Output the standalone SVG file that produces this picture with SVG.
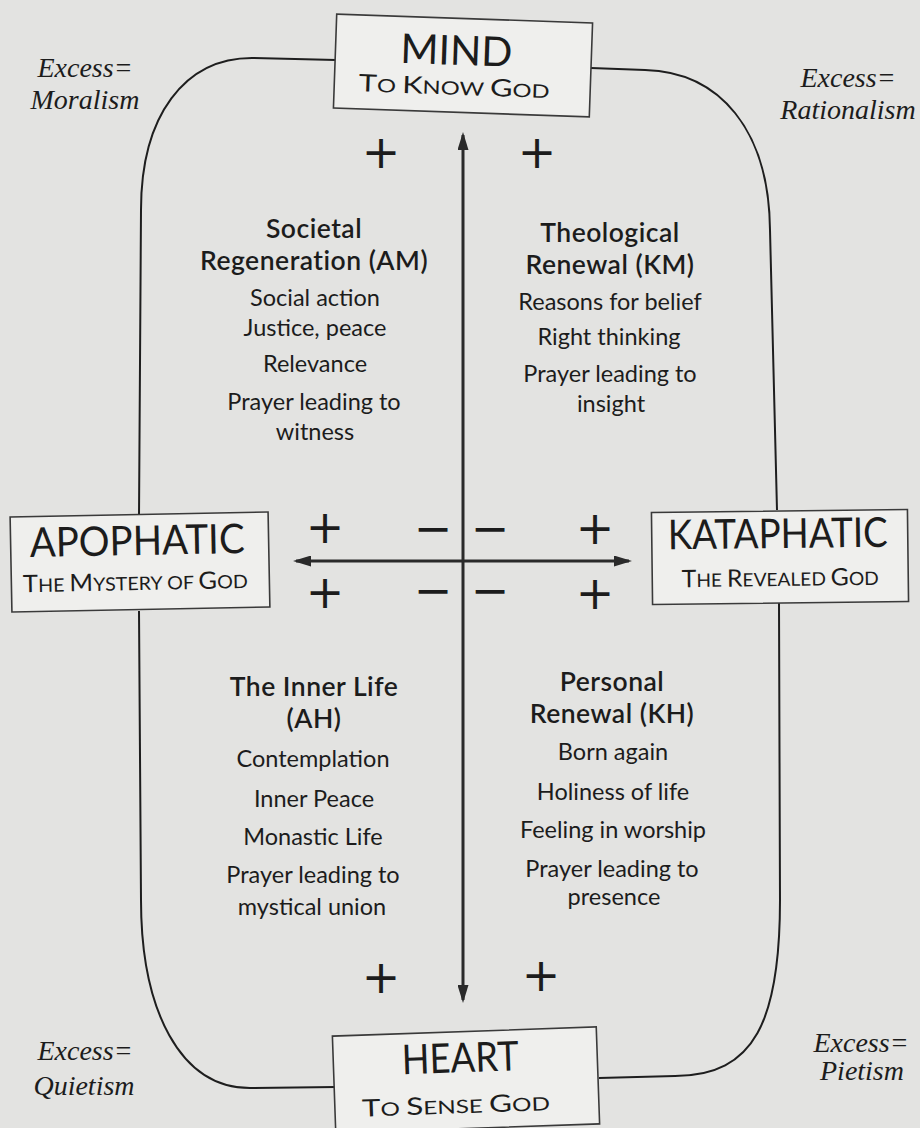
<svg xmlns="http://www.w3.org/2000/svg" width="920" height="1128" viewBox="0 0 920 1128">
<defs>
<style>
.bg{fill:#e3e3e1}
.box rect{fill:#efefed;stroke:#3a3a3a;stroke-width:1.6}
.t{font-family:Lato,"Open Sans","DejaVu Sans",sans-serif;fill:#1c1c1c;text-anchor:middle}
.big{font-size:41px;font-weight:400}
.scL{font-size:24px;font-weight:400}
.scS{font-size:18.5px;font-weight:400}
.hd{font-size:26.5px;font-weight:600;letter-spacing:0.5px}
.bd{font-size:23.5px}
.pm{font-family:"DejaVu Sans","Liberation Sans",sans-serif;font-size:46px;font-weight:400;fill:#1c1c1c;text-anchor:middle}
.ex{font-family:"Liberation Serif","Times New Roman",serif;font-style:italic;font-size:28px;fill:#1c1c1c;text-anchor:middle}
.frame{fill:none;stroke:#1e1e1e;stroke-width:2}
.axis{fill:none;stroke:#2a2a2a;stroke-width:3}
</style>
<marker id="ah" viewBox="0 0 18 11" refX="15" refY="5.5" markerWidth="18" markerHeight="11" markerUnits="userSpaceOnUse" orient="auto-start-reverse"><path d="M0,0 L18,5.5 L0,11 z" fill="#2a2a2a"/></marker>
</defs>
<rect class="bg" x="0" y="0" width="920" height="1128"/>

<g id="connectors">
<path class="frame" d="M336,60 L252,58 C185,58 141,115 141,210 L139,516"/>
<path class="frame" d="M139,611 L141,900 C141,1010 180,1088 250,1088 L336,1087"/>
<path class="frame" d="M591,68 L645,70 C720,72 769,130 770,230 L777,510"/>
<path class="frame" d="M779,603 L780,900 C780,1020 755,1076 675,1076 L599,1078"/>
<line class="axis" x1="463" y1="135" x2="463" y2="1000" marker-start="url(#ah)" marker-end="url(#ah)"/>
<line class="axis" x1="296" y1="561" x2="629" y2="561" marker-start="url(#ah)" marker-end="url(#ah)"/>
</g>

<g id="mind" class="box" transform="rotate(2 463 65.5)">
<rect x="335" y="18.5" width="256" height="94"/>
<text class="t big" x="456" y="65" textLength="112" lengthAdjust="spacingAndGlyphs">MIND</text>
<text class="t" x="455" y="95" textLength="191" lengthAdjust="spacingAndGlyphs"><tspan class="scL">T</tspan><tspan class="scS">O </tspan><tspan class="scL">K</tspan><tspan class="scS">NOW </tspan><tspan class="scL">G</tspan><tspan class="scS">OD</tspan></text>
</g>

<g id="apophatic" class="box" transform="rotate(-1.1 140 562)">
<rect x="11" y="514.5" width="258" height="95"/>
<text class="t big" x="137.5" y="555" textLength="215" lengthAdjust="spacingAndGlyphs">APOPHATIC</text>
<text class="t" x="135" y="590" textLength="225" lengthAdjust="spacingAndGlyphs"><tspan class="scL">T</tspan><tspan class="scS">HE </tspan><tspan class="scL">M</tspan><tspan class="scS">YSTERY OF </tspan><tspan class="scL">G</tspan><tspan class="scS">OD</tspan></text>
</g>

<g id="kataphatic" class="box" transform="rotate(-0.7 780 557)">
<rect x="652" y="511" width="256" height="92"/>
<text class="t big" x="778" y="548" textLength="220" lengthAdjust="spacingAndGlyphs">KATAPHATIC</text>
<text class="t" x="780" y="586" textLength="197" lengthAdjust="spacingAndGlyphs"><tspan class="scL">T</tspan><tspan class="scS">HE </tspan><tspan class="scL">R</tspan><tspan class="scS">EVEALED </tspan><tspan class="scL">G</tspan><tspan class="scS">OD</tspan></text>
</g>

<g id="heart" class="box" transform="rotate(-2 466 1080)">
<rect x="334" y="1031.5" width="264" height="97"/>
<text class="t big" x="461" y="1072" textLength="117" lengthAdjust="spacingAndGlyphs">HEART</text>
<text class="t" x="455" y="1113" textLength="188" lengthAdjust="spacingAndGlyphs"><tspan class="scL">T</tspan><tspan class="scS">O </tspan><tspan class="scL">S</tspan><tspan class="scS">ENSE </tspan><tspan class="scL">G</tspan><tspan class="scS">OD</tspan></text>
</g>

<g id="societal-regeneration">
<text class="t hd" x="314" y="238">Societal</text>
<text class="t hd" x="314" y="270">Regeneration (AM)</text>
<text class="t bd" x="315" y="306">Social action</text>
<text class="t bd" x="315" y="336">Justice, peace</text>
<text class="t bd" x="315" y="372">Relevance</text>
<text class="t bd" x="314" y="410">Prayer leading to</text>
<text class="t bd" x="315" y="440">witness</text>
</g>

<g id="theological-renewal">
<text class="t hd" x="610" y="242">Theological</text>
<text class="t hd" x="610" y="274">Renewal (KM)</text>
<text class="t bd" x="610" y="310">Reasons for belief</text>
<text class="t bd" x="609" y="345">Right thinking</text>
<text class="t bd" x="610" y="382">Prayer leading to</text>
<text class="t bd" x="611" y="412">insight</text>
</g>

<g id="inner-life">
<text class="t hd" x="314" y="696">The Inner Life</text>
<text class="t hd" x="314" y="728">(AH)</text>
<text class="t bd" x="313" y="767">Contemplation</text>
<text class="t bd" x="314" y="807">Inner Peace</text>
<text class="t bd" x="313" y="845">Monastic Life</text>
<text class="t bd" x="313" y="883">Prayer leading to</text>
<text class="t bd" x="312" y="915">mystical union</text>
</g>

<g id="personal-renewal">
<text class="t hd" x="612" y="691">Personal</text>
<text class="t hd" x="612" y="723">Renewal (KH)</text>
<text class="t bd" x="613" y="760">Born again</text>
<text class="t bd" x="613" y="800">Holiness of life</text>
<text class="t bd" x="613" y="838">Feeling in worship</text>
<text class="t bd" x="612" y="877">Prayer leading to</text>
<text class="t bd" x="614" y="905">presence</text>
</g>

<g id="signs">
<text class="pm" x="381" y="168">+</text>
<text class="pm" x="537" y="168">+</text>
<text class="pm" x="325" y="543">+</text>
<text class="pm" x="433" y="544">−</text>
<text class="pm" x="490" y="544">−</text>
<text class="pm" x="595" y="544">+</text>
<text class="pm" x="325" y="608">+</text>
<text class="pm" x="433" y="606">−</text>
<text class="pm" x="490" y="606">−</text>
<text class="pm" x="595" y="609">+</text>
<text class="pm" x="381" y="993">+</text>
<text class="pm" x="541" y="991">+</text>
</g>

<g id="excess-labels">
<text class="ex" x="85" y="77">Excess=</text>
<text class="ex" x="85" y="109">Moralism</text>
<text class="ex" x="848" y="87">Excess=</text>
<text class="ex" x="848" y="119">Rationalism</text>
<text class="ex" x="85" y="1060">Excess=</text>
<text class="ex" x="84" y="1095">Quietism</text>
<text class="ex" x="861" y="1052">Excess=</text>
<text class="ex" x="862" y="1080">Pietism</text>
</g>
</svg>
